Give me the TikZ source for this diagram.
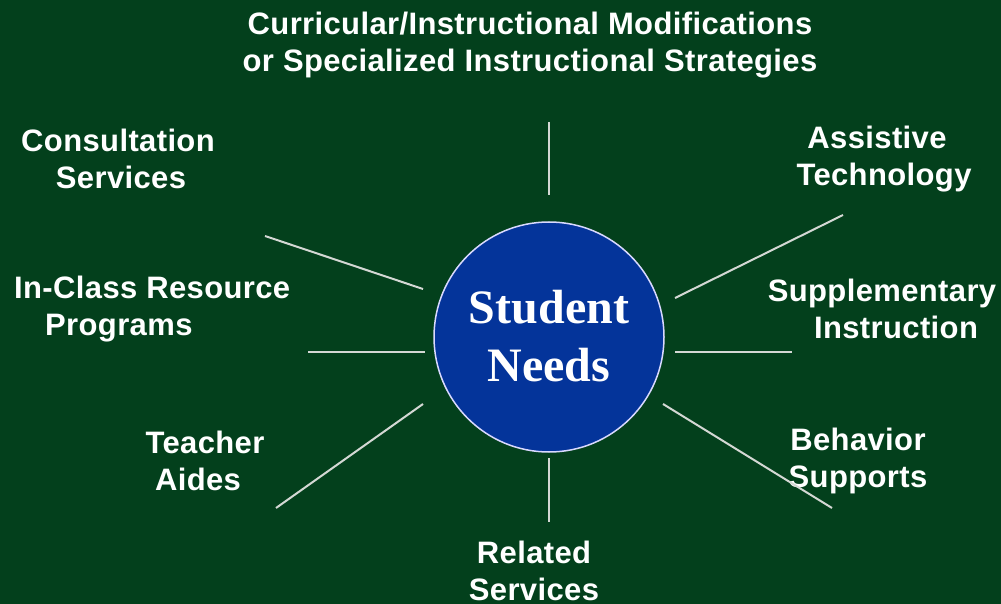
\documentclass[tikz,border=0pt]{standalone}
\usepackage{fontspec}
\setmainfont{Liberation Sans}[LetterSpace=1.2]
\newfontfamily\serifbold{Liberation Serif}
\definecolor{bggreen}{HTML}{03401C}
\definecolor{hubblue}{HTML}{04349A}
\definecolor{spokegray}{HTML}{D4D8D4}
\begin{document}
\begin{tikzpicture}[x=1pt,y=-1pt,
  lbl/.style={text=white,font=\fontsize{31}{37}\selectfont\bfseries,align=center,inner sep=0pt},
  spoke/.style={draw=spokegray,line width=2pt}]
\fill[bggreen] (0,0) rectangle (1001,604);
\useasboundingbox (0,0) rectangle (1001,604);
\node[circle,fill=hubblue,draw=white!85!blue,line width=1.5pt,minimum size=230pt,inner sep=0pt] (hub) at (549,337) {};
\node[text=white,font=\serifbold\fontsize{48}{58}\selectfont\bfseries,align=center] (hubtxt) at (549,336) {Student\\Needs};
\node[lbl] (curr) at (530,45) {Curricular/Instructional Modifications\\or Specialized Instructional Strategies};
\node[lbl] (cons) at (118,159) {Consultation\\\hspace*{6pt}Services};
\node[lbl] (assist) at (884,159) {\hspace*{-14pt}Assistive\\Technology};
\node[lbl,align=left,anchor=west] (inclass) at (14,309) {In-Class Resource\\\hspace*{31pt}Programs};
\node[lbl] (supp) at (882,309) {Supplementary\\\hspace*{28pt}Instruction};
\node[lbl] (teach) at (205,461) {Teacher\\\hspace*{-14pt}Aides};
\node[lbl] (behav) at (858,461) {Behavior\\Supports};
\node[lbl] (relat) at (534,571) {Related\\Services};
\coordinate (t1) at (549,122); \coordinate (t2) at (549,195);
\coordinate (b1) at (549,458); \coordinate (b2) at (549,522);
\coordinate (l1) at (308,352); \coordinate (l2) at (425,352);
\coordinate (r1) at (675,352); \coordinate (r2) at (792,352);
\coordinate (ul1) at (265,236); \coordinate (ul2) at (423,289);
\coordinate (ur1) at (675,298); \coordinate (ur2) at (843,215);
\coordinate (ll1) at (276,508); \coordinate (ll2) at (423,404);
\coordinate (lr1) at (663,404); \coordinate (lr2) at (832,508);
\draw[spoke] (t1) -- (t2);
\draw[spoke] (b1) -- (b2);
\draw[spoke] (l1) -- (l2);
\draw[spoke] (r1) -- (r2);
\draw[spoke] (ul1) -- (ul2);
\draw[spoke] (ur1) -- (ur2);
\draw[spoke] (ll1) -- (ll2);
\draw[spoke] (lr1) -- (lr2);
\end{tikzpicture}
\end{document}
